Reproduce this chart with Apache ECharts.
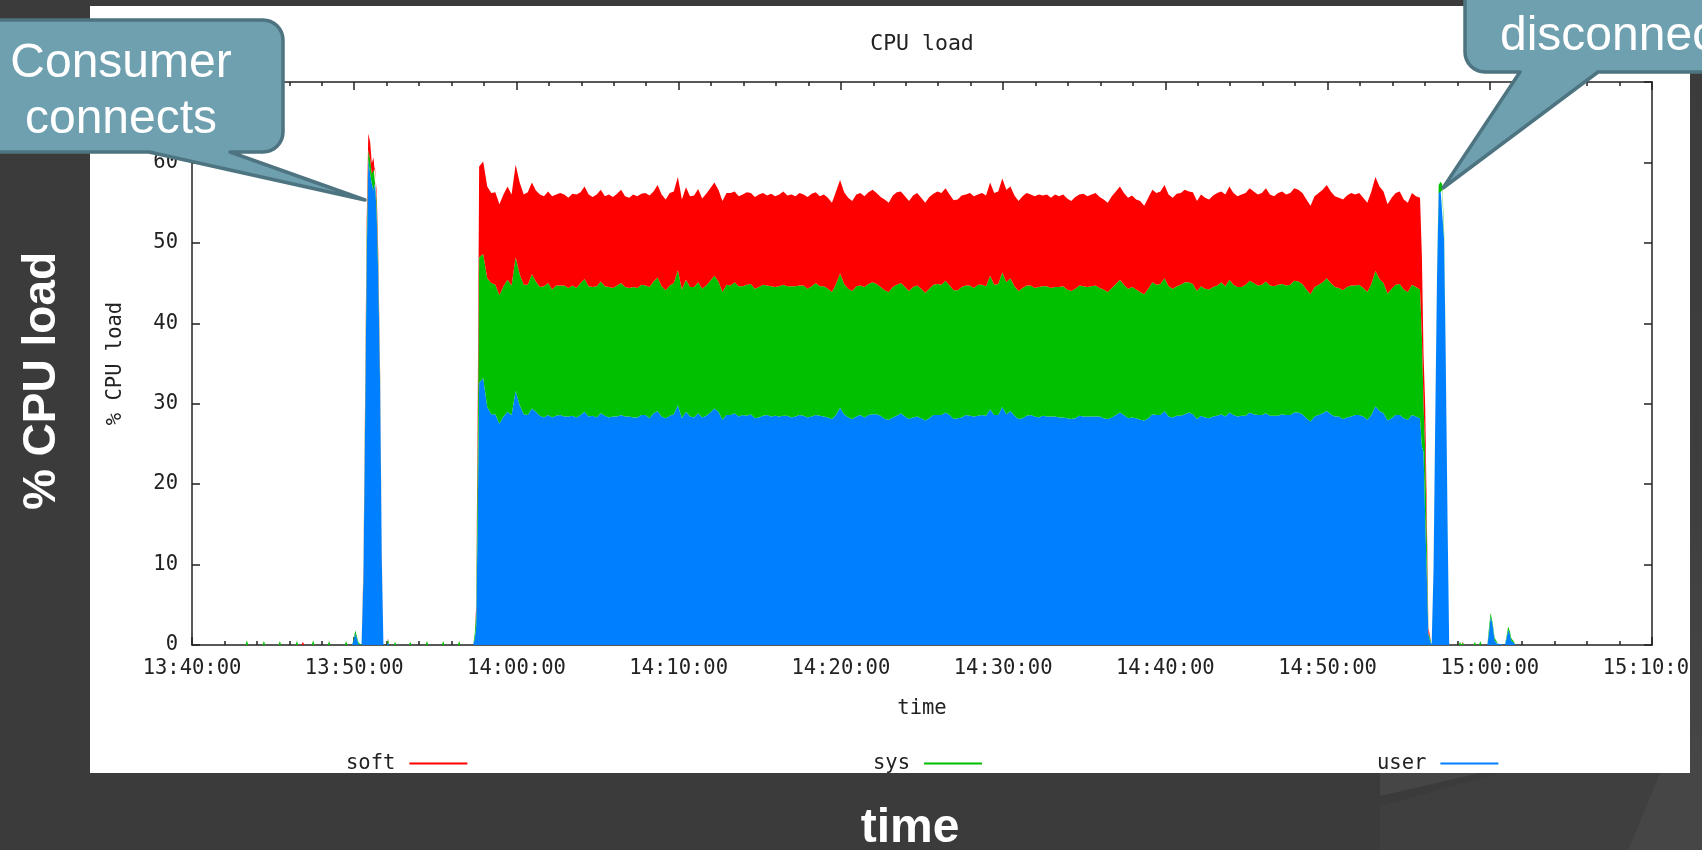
<!DOCTYPE html>
<html><head><meta charset="utf-8">
<script src="https://cdn.jsdelivr.net/npm/echarts@6/dist/echarts.min.js"></script>
<style>html,body{margin:0;padding:0;background:#3b3b3b;overflow:hidden}#c{width:1702px;height:850px}</style>
</head><body><div id="c"></div><script>
// ---- tick labels (x axis, 10-minute steps starting 13:40:00) ----
const xTickLabels = ['13:40:00','13:50:00','14:00:00','14:10:00','14:20:00','14:30:00','14:40:00','14:50:00','15:00:00','15:10:00'];
const seriesNames = ['user','sys','soft'];
const seriesColors = ['#0080ff','#00c000','#ff0000'];

// times are seconds after 13:40:00
// idle period before the consumer connects
const idleA_t    = [140,198,203,208,261,266,271,320,325,330,383,388,393,405,410,415,443,448,453,502,507,512,565,570,575,592,598,604,610,616,627];
const idleA_user = [0,0,0.2,0, 0,0.2,0, 0,0.1,0, 0,0.2,0, 0,0,0, 0,0.2,0, 0,0.1,0, 0,0.2,0, 0,0.6,1.4,0.8,0.1, 0];
const idleA_sys  = [0,0,0.4,0, 0,0.3,0, 0,0.4,0, 0,0.3,0, 0,0.1,0, 0,0.4,0, 0,0.4,0, 0,0.3,0, 0,0.2,0.4,0.3,0.2, 0];
const idleA_soft = [0,0,0,0, 0,0,0, 0,0,0, 0,0,0, 0,0.3,0, 0,0,0, 0,0,0, 0,0,0, 0,0,0,0,0, 0];

// first spike (consumer connects)
const spike1_t    = [634,640,646,652,659,665,671,677,683,689,696,702,708];
const spike1_user = [8.2,27.0,47.5,60.4,58.6,57.4,56.5,57.4,53.6,45.8,31.7,10.4,0];
const spike1_sys  = [0.6,1.9,3.0,1.1,1.8,1.2,3.0,1.9,1.6,1.5,0.9,0.2,0];
const spike1_soft = [0.7,1.5,2.0,2.1,2.1,1.3,1.1,1.3,1.3,1.3,0.9,0.5,0];

// idle between spike and main load
const idleB_t    = [720,725,730,746,751,756,802,807,812,864,869,874,924,929,934,983,988,993,1040];
const idleB_user = [0,0.3,0, 0,0.2,0, 0,0.2,0, 0,0.2,0, 0,0.1,0, 0,0.1,0, 0];
const idleB_sys  = [0,0.4,0, 0,0.2,0, 0,0.2,0, 0,0.3,0, 0,0.4,0, 0,0.4,0, 0];
const idleB_soft = [0,0.1,0, 0,0,0, 0,0,0, 0,0,0, 0,0,0, 0,0,0, 0];

// ramp up
const rampUp_t    = [1046,1051,1057];
const rampUp_user = [0.8,2.2,16.3];
const rampUp_sys  = [0.7,1.8,9.0];
const rampUp_soft = [0,0.8,5.6];

// main load block, one sample every 15 s from 13:57:42
const mainStart = 1062, mainStep = 15;
const mainUser = [
32.6,33.2,29.6,28.7,28.7,27.5,28.4,29.0,28.6,31.6,
29.8,28.7,28.6,29.4,29.0,28.5,28.3,28.6,28.3,28.5,
28.6,28.4,28.4,28.5,28.3,28.6,29.0,28.4,28.5,28.3,
28.8,28.5,28.3,28.4,28.4,28.6,28.4,28.4,28.3,28.3,
28.6,28.6,28.2,28.8,29.1,28.4,28.2,28.5,28.7,29.8,
28.2,29.0,28.4,28.3,28.8,28.3,28.5,28.9,29.4,29.0,
28.0,28.6,28.6,28.8,28.4,28.6,28.5,28.7,28.2,28.3,
28.5,28.6,28.4,28.5,28.4,28.5,28.5,28.3,28.4,28.6,
28.5,28.3,28.4,28.6,28.5,28.4,28.3,28.1,28.6,29.5,
28.7,28.3,28.1,28.4,28.6,28.3,28.6,28.7,28.7,28.5,
28.1,28.0,28.3,28.5,28.8,28.4,28.1,28.3,28.4,28.2,
27.9,28.2,28.6,28.6,28.6,28.9,28.6,28.1,28.2,28.3,
28.6,28.5,28.4,28.5,28.6,28.5,29.3,28.6,28.6,29.6,
28.7,29.1,28.5,28.1,28.2,28.5,28.6,28.4,28.3,28.5,
28.4,28.4,28.4,28.3,28.3,28.2,28.1,28.2,28.5,28.4,
28.4,28.4,28.4,28.4,28.2,28.1,28.3,28.6,28.9,28.6,
28.2,28.3,28.2,28.0,27.9,28.2,28.7,28.6,28.6,29.1,
28.4,28.3,28.5,28.5,28.7,28.9,28.7,28.1,28.5,28.3,
28.2,28.4,28.5,28.7,28.4,28.9,28.6,28.4,28.5,28.5,
28.9,28.7,28.6,28.6,28.8,28.5,28.5,28.5,28.7,28.6,
28.6,28.9,28.9,28.7,28.2,27.8,28.4,28.6,28.8,29.1,
28.7,28.4,28.4,28.1,28.3,28.4,28.6,28.6,28.4,28.0,
28.6,29.7,29.1,28.8,27.9,28.2,28.6,28.6,28.2,28.0,28.6,28.4,28.2];
const mainSys = [
15.6,15.4,16.0,16.3,16.1,16.0,16.2,16.4,16.1,16.6,
16.3,16.1,16.2,16.7,16.2,16.0,16.3,16.4,15.9,16.2,
16.1,16.3,16.0,16.2,16.1,16.4,16.5,16.2,16.0,16.3,
16.4,16.1,16.2,16.0,16.3,16.4,16.1,16.0,16.2,16.1,
16.2,16.1,16.3,16.4,16.6,16.2,15.9,16.2,16.3,16.8,
16.0,16.4,16.1,16.2,16.3,16.0,16.2,16.4,16.5,16.2,
15.9,16.2,16.1,16.3,16.2,16.0,16.3,16.2,16.1,16.2,
16.3,16.1,16.2,16.0,16.2,16.3,16.1,16.3,16.2,16.1,
16.2,16.0,16.2,16.4,16.1,16.2,16.0,15.8,16.3,16.7,
16.2,16.0,15.9,16.2,16.1,16.2,16.3,16.4,16.2,16.0,
16.0,15.9,16.2,16.3,16.2,16.1,15.9,16.2,16.3,16.1,
15.9,16.1,16.2,16.3,16.2,16.4,16.1,16.0,15.9,16.2,
16.1,16.2,16.0,16.3,16.2,16.1,16.6,16.2,16.3,16.7,
16.4,16.5,16.1,15.9,16.2,16.2,16.1,16.0,16.2,16.1,
16.2,16.0,16.1,16.2,16.3,16.0,15.9,16.1,16.2,16.2,
16.1,16.2,16.3,16.0,16.0,15.8,16.1,16.3,16.5,16.2,
16.1,16.2,16.0,15.9,15.7,16.1,16.4,16.2,16.3,16.5,
16.2,16.0,16.1,16.3,16.4,16.2,16.2,15.9,16.1,16.0,
16.0,16.1,16.2,16.4,16.2,16.5,16.2,16.1,16.0,16.3,
16.4,16.3,16.1,16.2,16.4,16.2,16.1,16.3,16.2,16.1,
16.2,16.4,16.3,16.2,16.0,15.8,16.1,16.2,16.3,16.5,
16.3,16.1,16.0,16.0,16.2,16.3,16.1,16.2,16.0,15.9,
16.3,16.8,16.4,16.2,15.8,16.1,16.2,16.3,16.0,15.9,16.2,16.1,16.0];
const mainSoft = [
11.3,11.5,11.4,11.2,11.5,11.3,11.4,11.6,11.3,11.5,
11.4,11.2,11.5,11.4,11.3,11.5,11.2,11.4,11.6,11.3,
11.5,11.3,11.2,11.4,11.6,11.3,11.5,11.4,11.2,11.4,
11.4,11.2,11.5,11.3,11.4,11.6,11.3,11.2,11.5,11.4,
11.3,11.5,11.4,11.2,11.5,11.4,11.3,11.5,11.4,11.6,
11.2,11.5,11.3,11.4,11.6,11.2,11.4,11.5,11.6,11.4,
11.3,11.4,11.5,11.3,11.2,11.4,11.5,11.3,11.4,11.5,
11.4,11.2,11.5,11.3,11.4,11.6,11.3,11.4,11.2,11.5,
11.3,11.4,11.5,11.3,11.2,11.4,11.3,11.1,11.5,11.6,
11.4,11.3,11.2,11.4,11.5,11.3,11.4,11.5,11.3,11.2,
11.3,11.1,11.4,11.5,11.4,11.3,11.2,11.4,11.5,11.3,
11.2,11.4,11.3,11.5,11.4,11.5,11.3,11.2,11.3,11.4,
11.3,11.5,11.4,11.2,11.4,11.3,11.6,11.4,11.5,11.7,
11.5,11.4,11.3,11.2,11.4,11.5,11.3,11.4,11.5,11.3,
11.4,11.2,11.5,11.3,11.4,11.3,11.2,11.4,11.3,11.5,
11.3,11.4,11.5,11.3,11.2,11.1,11.4,11.5,11.6,11.4,
11.3,11.4,11.2,11.3,11.0,11.3,11.5,11.4,11.5,11.6,
11.4,11.3,11.5,11.4,11.5,11.3,11.4,11.2,11.4,11.3,
11.2,11.4,11.5,11.3,11.4,11.6,11.4,11.3,11.5,11.4,
11.5,11.4,11.3,11.4,11.6,11.3,11.2,11.4,11.5,11.3,
11.4,11.5,11.4,11.3,11.2,11.0,11.3,11.4,11.5,11.6,
11.4,11.3,11.2,11.3,11.4,11.5,11.3,11.4,11.2,11.1,
11.5,11.7,11.5,11.4,11.1,11.3,11.4,11.5,11.2,11.1,11.4,11.3,11.4];

// ramp down at end of load
const rampDown_t    = [4549,4555,4561,4567,4573,4579,4585];
const rampDown_user = [24.7,24.0,16.1,8.7,1.3,0.5,0];
const rampDown_sys  = [13.6,6.0,8.2,4.6,0.2,0.4,0];
const rampDown_soft = [9.9,6.1,5.7,3.0,0.6,0.2,0];

// second spike (consumer disconnects)
const spike2_t    = [4592,4598,4605,4611,4618,4624,4631,4637,4644,4650];
const spike2_user = [9.3,27.0,46.0,56.2,56.6,56.5,50.4,36.0,14.8,0];
const spike2_sys  = [0.2,0.3,0.5,1.0,1.0,0.8,1.2,0.3,0.3,0];
const spike2_soft = [0,0,0,0,0,0,0,0,0,0];

// idle after
const idleC_t    = [4685,4690,4695,4700,4705,4740,4745,4750,4760,4765,4770,4791,4797,4803,4810,4818,4825,4831,4856,4862,4868,4874,4880,4888,4895,4920];
const idleC_user = [0,0.1,0,0.1,0, 0,0.1,0, 0,0.2,0, 0,1.5,3.5,2.6,0.6,0.2,0, 0,0.8,1.9,1.4,0.5,0.3,0, 0];
const idleC_sys  = [0,0.3,0,0.2,0, 0,0.3,0, 0,0.3,0, 0,0.6,0.5,0.3,0.3,0.3,0, 0,0.3,0.4,0.3,0.3,0.2,0, 0];
const idleC_soft = [0,0,0,0.1,0, 0,0,0, 0,0,0, 0,0,0,0,0,0,0, 0,0,0,0,0,0,0, 0];

// ---- assemble rows [t, user, sys, soft] ----
const rows = [];
function addSeg(ts, u, s, f){ ts.forEach((t,i)=>rows.push([t, u[i]??0, s[i]??0, f[i]??0])); }
addSeg(idleA_t, idleA_user, idleA_sys, idleA_soft);
addSeg(spike1_t, spike1_user, spike1_sys, spike1_soft);
addSeg(idleB_t, idleB_user, idleB_sys, idleB_soft);
addSeg(rampUp_t, rampUp_user, rampUp_sys, rampUp_soft);
addSeg(mainUser.map((_,i)=>mainStart+i*mainStep), mainUser, mainSys, mainSoft);
addSeg(rampDown_t, rampDown_user, rampDown_sys, rampDown_soft);
addSeg(spike2_t, spike2_user, spike2_sys, spike2_soft);
addSeg(idleC_t, idleC_user, idleC_sys, idleC_soft);
rows.sort((a,b)=>a[0]-b[0]);

const BASE = Date.UTC(2013,0,1,13,40,0);   // 13:40:00
const SPAN = 5400;                          // seconds shown (to 15:10:00)

const MONO = '"DejaVu Sans Mono","Liberation Mono",monospace';
const SANS = '"Liberation Sans",Arial,sans-serif';
const AX = '#222';
const FS = 20.5;

function mkSeries(idx){
  return {
    name: seriesNames[idx], type:'line', stack:'cpu', xAxisIndex:0, yAxisIndex:0,
    data: rows.map(r=>[BASE + r[0]*1000, r[idx+1]]),
    symbol:'none', showSymbol:false, smooth:false,
    lineStyle:{width:0, color:seriesColors[idx]},
    itemStyle:{color:seriesColors[idx]},
    areaStyle:{color:seriesColors[idx], opacity:1},
    emphasis:{disabled:true}, silent:true, z:2
  };
}

function arcPts(cx, cy, r, a0, a1, n){
  const p=[]; for(let k=0;k<=n;k++){const a=a0+(a1-a0)*k/n; p.push([cx+r*Math.cos(a), cy+r*Math.sin(a)]);} return p;
}
// callout shapes (decoration)
const r1 = 20;
const consumerPts = [[-20,20],[283-r1,20]]
  .concat(arcPts(283-r1,20+r1,r1,-Math.PI/2,0,8))
  .concat(arcPts(283-r1,152-r1,r1,0,Math.PI/2,8))
  .concat([[230,152],[365,200],[149,152],[-20,152]]);
const discPts = [[1465,-40],[1720,-40],[1720,72],[1598,72],[1443,188],[1520,72]]
  .concat(arcPts(1465+r1,72-r1,r1,Math.PI/2,Math.PI,8));

const calloutFill = '#6fa0af', calloutStroke = '#4d7480';

function legendOf(name, left){
  return {
    data:[name], left:left, top:748, orient:'horizontal', align:'right',
    icon:'rect', itemWidth:58, itemHeight:2, selectedMode:false,
    textStyle:{color:AX, fontFamily:MONO, fontSize:FS, padding:[0,9,0,0]}
  };
}
const tickAxisCommon = {
  type:'value', min:0, max:SPAN, interval:600,
  axisLine:{show:true, onZero:false, lineStyle:{color:AX,width:1.5}},
  axisTick:{show:true, inside:true, length:8, lineStyle:{color:AX,width:1.5}},
  minorTick:{show:true, splitNumber:5, length:4, lineStyle:{color:AX,width:1.5}},
  splitLine:{show:false}, minorSplitLine:{show:false}
};

const chart = echarts.init(document.getElementById('c'), null, {renderer:'canvas'});
chart.setOption({
  backgroundColor:'#3b3b3b',
  animation:false,
  grid:{left:192, right:50, top:82, bottom:205, containLabel:false, outerBoundsMode:'none'},
  legend:[legendOf('soft',341), legendOf('sys',868), legendOf('user',1372)],
  xAxis:[
    {type:'time', min:BASE, max:BASE+SPAN*1000, show:false, position:'bottom'},
    Object.assign({}, tickAxisCommon, {position:'bottom',
     axisLabel:{formatter:v=>xTickLabels[Math.round(v/600)]||'', margin:13, color:AX, fontFamily:MONO, fontSize:FS, showMinLabel:true, showMaxLabel:true, hideOverlap:false},
     name:'time', nameLocation:'middle', nameGap:53,
     nameTextStyle:{color:AX, fontFamily:MONO, fontSize:FS}}),
    Object.assign({}, tickAxisCommon, {position:'top', axisLabel:{show:false}})
  ],
  yAxis:[
    {type:'value', min:0, max:70, interval:10, position:'left',
     axisLine:{show:true, onZero:false, lineStyle:{color:AX,width:1.5}},
     axisTick:{show:true, inside:true, length:8, lineStyle:{color:AX,width:1.5}},
     splitLine:{show:false},
     axisLabel:{margin:14, color:AX, fontFamily:MONO, fontSize:FS},
     name:'% CPU load', nameLocation:'middle', nameGap:66, nameRotate:90,
     nameTextStyle:{color:AX, fontFamily:MONO, fontSize:FS}},
    {type:'value', min:0, max:70, interval:10, position:'right',
     axisLine:{show:true, onZero:false, lineStyle:{color:AX,width:1.5}},
     axisTick:{show:true, inside:true, length:8, lineStyle:{color:AX,width:1.5}},
     splitLine:{show:false}, axisLabel:{show:false}}
  ],
  series:[mkSeries(0), mkSeries(1), mkSeries(2)],
  graphic:[
    {type:'polygon', silent:true, z:-30, shape:{points:[[1380,850],[1380,806],[1500,773],[1702,773],[1702,850]]}, style:{fill:'#3f3f3f'}},
    {type:'polygon', silent:true, z:-29, shape:{points:[[1380,773],[1480,773],[1380,796]]}, style:{fill:'#464646'}},
    {type:'polygon', silent:true, z:-28, shape:{points:[[1702,560],[1690,600],[1690,773],[1660,773],[1645,810],[1628,850],[1702,850]]}, style:{fill:'#464646'}},
    {type:'rect', silent:true, z:-10, shape:{x:90,y:6,width:1600,height:767}, style:{fill:'#ffffff'}},
    {type:'rect', silent:true, z:50, shape:{x:1690,y:0,width:12,height:773},
     style:{fill:new echarts.graphic.LinearGradient(0,0,0,1,[{offset:0,color:'#3b3b3b'},{offset:0.6,color:'#3e3e3e'},{offset:1,color:'#464646'}])}},
    {type:'text', silent:true, z:10, x:922, y:44,
     style:{text:'CPU load', fill:AX, font:'21.5px '+MONO, textAlign:'center', textVerticalAlign:'middle', align:'center', verticalAlign:'middle'}},
    {type:'polygon', silent:true, z:100, shape:{points:consumerPts}, style:{fill:calloutFill, stroke:calloutStroke, lineWidth:3.5, lineJoin:'round'}},
    {type:'text', silent:true, z:101, x:121, y:64,
     style:{text:'Consumer', fill:'#ffffff', font:'48px '+SANS, textAlign:'center', textVerticalAlign:'middle', align:'center', verticalAlign:'middle'}},
    {type:'text', silent:true, z:101, x:121, y:120,
     style:{text:'connects', fill:'#ffffff', font:'48px '+SANS, textAlign:'center', textVerticalAlign:'middle', align:'center', verticalAlign:'middle'}},
    {type:'polygon', silent:true, z:100, shape:{points:discPts}, style:{fill:calloutFill, stroke:calloutStroke, lineWidth:3.5, lineJoin:'round'}},
    {type:'text', silent:true, z:101, x:1500, y:37,
     style:{text:'disconnects', fill:'#ffffff', font:'48px '+SANS, textAlign:'left', textVerticalAlign:'middle', align:'left', verticalAlign:'middle'}},
    {type:'text', silent:true, z:20, x:42, y:381, rotation:Math.PI/2,
     style:{text:'% CPU load', fill:'#ffffff', font:'bold 46px '+SANS, textAlign:'center', textVerticalAlign:'middle', align:'center', verticalAlign:'middle'}},
    {type:'text', silent:true, z:20, x:910, y:829,
     style:{text:'time', fill:'#ffffff', font:'bold 48px '+SANS, textAlign:'center', textVerticalAlign:'middle', align:'center', verticalAlign:'middle'}}
  ]
});
</script></body></html>
